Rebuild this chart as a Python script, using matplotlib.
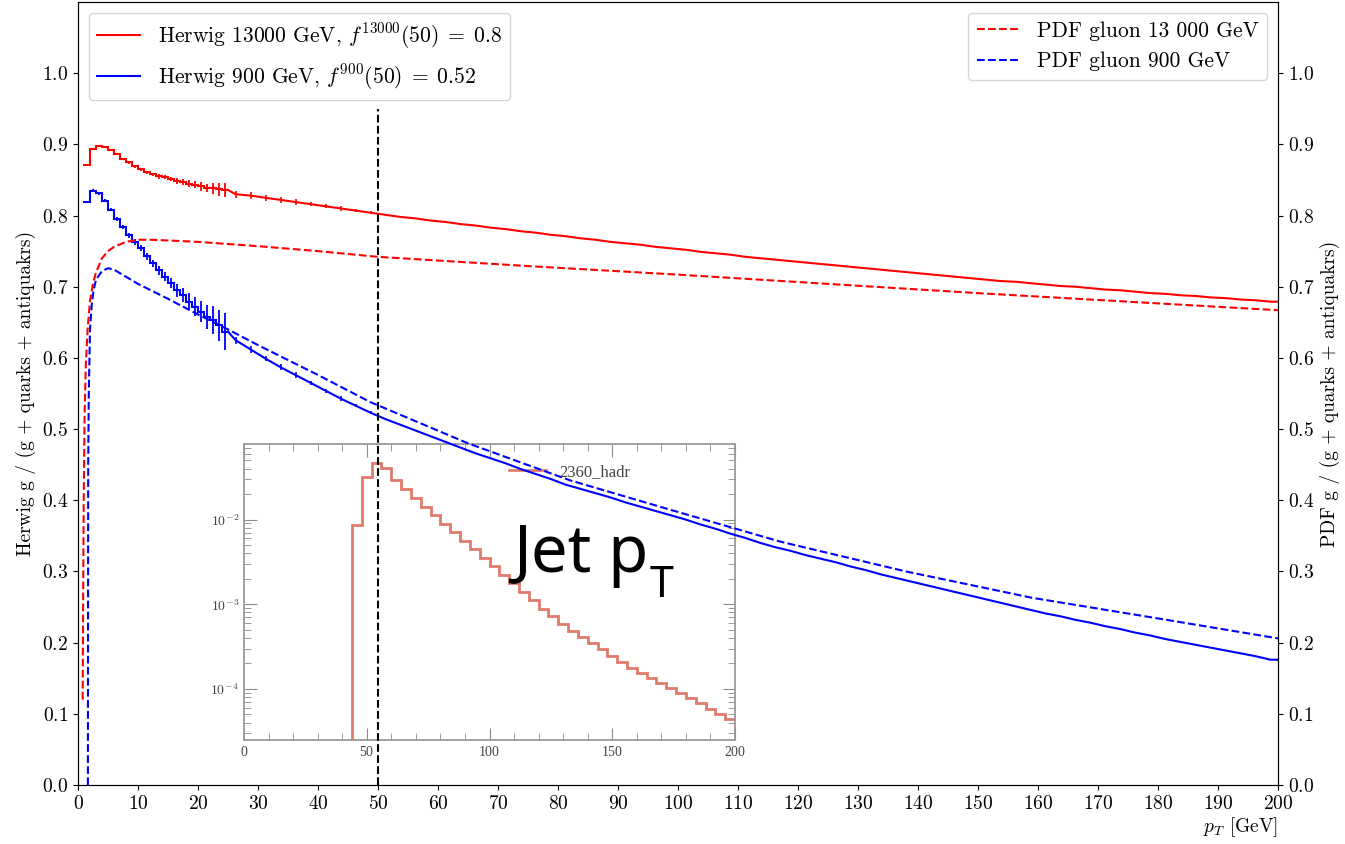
import numpy as np
import matplotlib
matplotlib.use('Agg')
import matplotlib.pyplot as plt
from matplotlib.ticker import MultipleLocator, LogLocator, NullFormatter

plt.rcParams['font.family'] = 'serif'
plt.rcParams['font.serif'] = ['cmr10']
plt.rcParams['mathtext.fontset'] = 'cm'
plt.rcParams['axes.formatter.use_mathtext'] = True
plt.rcParams['axes.unicode_minus'] = False

# --- Herwig g/(g+q+qbar), fine bins 0.8..25 GeV ---
fine_edges = [0.8] + list(range(2, 26))
herwig13000_fine = [0.871, 0.893, 0.897, 0.896, 0.892, 0.887, 0.880, 0.875, 0.869, 0.865,
                    0.861, 0.858, 0.855, 0.854, 0.851, 0.849, 0.847, 0.845, 0.843, 0.841,
                    0.839, 0.838, 0.837, 0.836]
herwig13000_fine_err = [0.001, 0.001, 0.001, 0.001, 0.001, 0.001, 0.001, 0.002, 0.002, 0.002,
                        0.002, 0.002, 0.003, 0.003, 0.003, 0.004, 0.004, 0.005, 0.005, 0.006,
                        0.006, 0.008, 0.009, 0.010]
herwig900_fine = [0.819, 0.835, 0.831, 0.821, 0.808, 0.795, 0.784, 0.772, 0.763, 0.754,
                  0.743, 0.733, 0.723, 0.714, 0.705, 0.695, 0.688, 0.679, 0.672, 0.665,
                  0.658, 0.653, 0.646, 0.637]
herwig900_fine_err = [0.002, 0.002, 0.002, 0.002, 0.002, 0.003, 0.003, 0.003, 0.004, 0.004,
                      0.005, 0.005, 0.006, 0.006, 0.007, 0.009, 0.010, 0.012, 0.013, 0.015,
                      0.017, 0.020, 0.022, 0.026]

# --- Herwig, 2.5 GeV bins 25..200 GeV (bin centres) ---
coarse_pt = np.arange(26.25, 200, 2.5)
herwig13000_coarse = [0.830, 0.828, 0.825, 0.822, 0.819, 0.816, 0.813, 0.810, 0.807, 0.804,
                      0.801, 0.798, 0.796, 0.793, 0.791, 0.788, 0.786, 0.783, 0.781, 0.778,
                      0.776, 0.773, 0.771, 0.768, 0.766, 0.763, 0.761, 0.759, 0.756, 0.754,
                      0.752, 0.749, 0.747, 0.745, 0.742, 0.740, 0.738, 0.736, 0.734, 0.732,
                      0.730, 0.728, 0.726, 0.724, 0.722, 0.720, 0.718, 0.716, 0.714, 0.712,
                      0.710, 0.708, 0.707, 0.705, 0.703, 0.701, 0.700, 0.698, 0.696, 0.695,
                      0.693, 0.691, 0.690, 0.688, 0.687, 0.685, 0.684, 0.682, 0.681, 0.679]
herwig900_coarse = [0.625, 0.612, 0.599, 0.587, 0.576, 0.565, 0.554, 0.543, 0.533, 0.523,
                    0.514, 0.506, 0.498, 0.490, 0.482, 0.474, 0.466, 0.459, 0.452, 0.444,
                    0.437, 0.430, 0.422, 0.416, 0.410, 0.404, 0.397, 0.391, 0.385, 0.379,
                    0.373, 0.366, 0.360, 0.353, 0.347, 0.340, 0.334, 0.329, 0.323, 0.318,
                    0.313, 0.307, 0.302, 0.296, 0.291, 0.286, 0.281, 0.276, 0.271, 0.266,
                    0.261, 0.256, 0.251, 0.246, 0.241, 0.237, 0.232, 0.228, 0.223, 0.219,
                    0.214, 0.210, 0.205, 0.201, 0.197, 0.193, 0.189, 0.185, 0.181, 0.176]
coarse_err = [0.005, 0.005, 0.004, 0.004, 0.004, 0.003, 0.003, 0.003, 0.002, 0.002]

# --- PDF gluon fractions ---
pdf13000_pt = [0.78, 0.85, 0.95, 1.1, 1.3, 1.6, 2.0, 2.5, 3, 4, 5, 6, 8, 10, 12, 15, 20,
               30, 40, 50, 75, 100, 125, 150, 175, 200]
pdf13000 = [0.12, 0.25, 0.40, 0.52, 0.59, 0.64, 0.68, 0.705, 0.72, 0.74, 0.75, 0.756, 0.763,
            0.766, 0.766, 0.765, 0.763, 0.757, 0.750, 0.742, 0.729, 0.717, 0.704, 0.691,
            0.679, 0.667]
pdf900_pt = [1.65, 1.7, 1.8, 2.0, 2.3, 2.6, 3, 4, 5, 6, 8, 10, 15, 20, 25, 30, 40, 48.7,
             65, 82, 99, 117, 138, 159, 180, 200]
pdf900 = [0.0, 0.45, 0.55, 0.64, 0.675, 0.695, 0.71, 0.722, 0.726, 0.724, 0.714, 0.704,
          0.683, 0.661, 0.640, 0.618, 0.576, 0.538, 0.480, 0.428, 0.386, 0.342, 0.300,
          0.263, 0.234, 0.206]

# --- inset: jet pT spectrum (2360_hadr) ---
inset_edges = np.arange(44, 201, 4)
inset_vals = [8.71e-3, 3.16e-2, 4.68e-2, 4.07e-2, 2.95e-2, 2.29e-2, 1.82e-2, 1.41e-2,
              1.12e-2, 8.91e-3, 7.08e-3, 5.62e-3, 4.47e-3, 3.55e-3, 2.82e-3, 2.24e-3,
              1.78e-3, 1.41e-3, 1.12e-3, 8.91e-4, 7.24e-4, 5.89e-4, 4.90e-4, 4.07e-4,
              3.47e-4, 2.95e-4, 2.45e-4, 2.09e-4, 1.78e-4, 1.55e-4, 1.35e-4, 1.17e-4,
              1.02e-4, 8.91e-5, 7.76e-5, 6.76e-5, 5.75e-5, 5.01e-5, 4.37e-5]

CUT_PT = 50

W, H = 1345, 844
fig = plt.figure(figsize=(W / 100, H / 100), dpi=100)

# inset first, underneath the main axes
ins = fig.add_axes([244 / W, 1 - 740 / H, 491 / W, 296 / H], zorder=1)
ins.stairs(inset_vals, inset_edges, baseline=1e-7, color='#e07b6c', lw=2)
ins.plot([], [], color='#e07b6c', lw=2, label='2360_hadr')
ins.set_xlim(0, 200)
ins.set_yscale('log')
ins.set_ylim(2.5e-5, 0.078)
ins.xaxis.set_major_locator(MultipleLocator(50))
ins.xaxis.set_minor_locator(MultipleLocator(10))
ins.yaxis.set_minor_locator(LogLocator(subs=np.arange(2, 10)))
ins.yaxis.set_minor_formatter(NullFormatter())
ins.tick_params(which='both', direction='in', top=True, right=True,
                colors='#8c8c8c', labelcolor='#444444', labelsize=10)
ins.tick_params(which='major', length=9)
ins.tick_params(which='minor', length=5)
for lbl in ins.get_xticklabels():
    lbl.set_family('Liberation Serif')
for s in ins.spines.values():
    s.set_color('#9a9a9a')
    s.set_linewidth(1.3)
ins.legend(loc='center left', bbox_to_anchor=(0.51, 0.905), frameon=False,
           handlelength=2.2, labelcolor='#444444',
           prop={'family': 'Liberation Serif', 'size': 12})

ax = fig.add_axes([78 / W, 59 / H, 1200 / W, 783 / H], zorder=2)
ax.patch.set_visible(False)
ax2 = ax.twinx()
ax2.set_zorder(3)

# Herwig histograms
ax.stairs(herwig13000_fine, fine_edges, baseline=None, color='red', lw=1.5)
ax.stairs(herwig900_fine, fine_edges, baseline=None, color='blue', lw=1.5)
fine_c = 0.5 * (np.array(fine_edges[:-1]) + np.array(fine_edges[1:]))
ax.errorbar(fine_c, herwig13000_fine, yerr=herwig13000_fine_err, fmt='none', ecolor='red', lw=1.3)
ax.errorbar(fine_c, herwig900_fine, yerr=herwig900_fine_err, fmt='none', ecolor='blue', lw=1.3)
ax.errorbar(coarse_pt[:len(coarse_err)], herwig13000_coarse[:len(coarse_err)], yerr=coarse_err,
            fmt='none', ecolor='red', lw=1.2)
ax.errorbar(coarse_pt[:len(coarse_err)], herwig900_coarse[:len(coarse_err)], yerr=coarse_err,
            fmt='none', ecolor='blue', lw=1.2)
h1, = ax.plot([25] + list(coarse_pt) + [200],
              [herwig13000_fine[-1]] + herwig13000_coarse + [herwig13000_coarse[-1]],
              color='red', lw=1.5, label=r'Herwig 13000 GeV, $f^{13000}(50)\;=\;0.8$')
h2, = ax.plot([25] + list(coarse_pt) + [200],
              [herwig900_fine[-1]] + herwig900_coarse + [herwig900_coarse[-1]],
              color='blue', lw=1.5, label=r'Herwig 900 GeV, $f^{900}(50)\;=\;0.52$')

ax.vlines(CUT_PT, 0, 0.95, colors='black', linestyles='--', lw=1.5)

# PDF curves on the right axis
ax2.plot(pdf13000_pt, pdf13000, color='red', ls='--', lw=1.5, label='PDF gluon 13 000 GeV')
ax2.plot(pdf900_pt, pdf900, color='blue', ls='--', lw=1.5, label='PDF gluon 900 GeV')

for a in (ax, ax2):
    a.set_xlim(0, 200)
    a.set_ylim(0, 1.1)
    a.set_yticks(np.arange(0, 1.01, 0.1))
    a.tick_params(labelsize=14)
ax.set_xticks(np.arange(0, 201, 10))

ax.set_xlabel(r'$p_T$ [GeV]', fontsize=14, loc='right', labelpad=2)
ax.set_ylabel('Herwig g / (g + quarks + antiquakrs)', fontsize=14)
ax2.set_ylabel('PDF g / (g + quarks + antiquakrs)', fontsize=14)

ax.legend(handles=[h1, h2], loc='upper left', fontsize=15.5)
ax2.legend(loc='upper right', fontsize=15.5)

# pasted label
fig.text(513 / W, 1 - 572 / H, 'Jet p', fontsize=47, family='Noto Sans', va='baseline')
fig.text(650 / W, 1 - 597 / H, 'T', fontsize=31, family='Noto Sans', va='baseline')

fig.savefig('out.png', dpi=100)
